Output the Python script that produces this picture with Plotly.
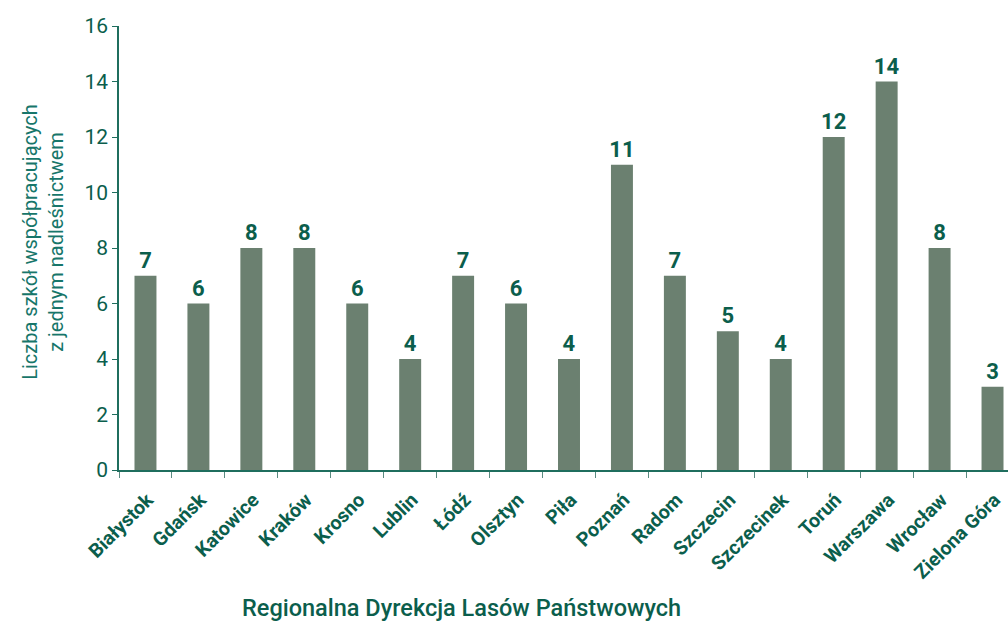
import plotly.graph_objects as go

categories = ["Białystok", "Gdańsk", "Katowice", "Kraków", "Krosno", "Lublin", "Łódź",
              "Olsztyn", "Piła", "Poznań", "Radom", "Szczecin", "Szczecinek", "Toruń",
              "Warszawa", "Wrocław", "Zielona Góra"]
values = [7, 6, 8, 8, 6, 4, 7, 6, 4, 11, 7, 5, 4, 12, 14, 8, 3]

y_title = "Liczba szkół współpracujących<br>z jednym nadleśnictwem"
x_title = "Regionalna Dyrekcja Lasów Państwowych"

dark = "#0b5e4c"
bar_color = "#6b8070"
FONT = "Roboto"

fig = go.Figure(go.Bar(
    x=categories, y=values,
    marker=dict(color=bar_color, line=dict(width=0)),
    text=[str(v) for v in values], textposition="outside",
    textfont=dict(family=FONT, size=22, color=dark, weight="bold"),
    cliponaxis=False, constraintext="none",
))

fig.update_layout(
    width=1021, height=622,
    margin=dict(l=119, r=2, t=26, b=152),
    plot_bgcolor="white", paper_bgcolor="white",
    bargap=0.585,
    showlegend=False,
    font=dict(family=FONT, color=dark),
    annotations=[
        dict(text=x_title, xref="paper", yref="paper", x=0.38, y=-0.311,
             showarrow=False, xanchor="center", yanchor="middle",
             font=dict(family=FONT, size=23.5, color=dark, weight=500)),
        dict(text=y_title, xref="paper", yref="paper", x=-0.0856 * 888 / 900, y=0.514,
             showarrow=False, xanchor="center", yanchor="middle", textangle=-90,
             font=dict(family=FONT, size=20, color="#17766a")),
    ],
)
fig.update_xaxes(
    automargin=False,
    tickangle=-45, tickfont=dict(family=FONT, size=19.5, color=dark, weight="bold"),
    ticklabelshift=2, ticklabelstandoff=9,
    showline=True, linecolor="#1f6e5e", linewidth=1.5,
    ticks="outside", tickson="boundaries", ticklen=6, tickcolor="#5a8a80",
    showgrid=False,
)
fig.update_yaxes(
    automargin=False,
    range=[0, 16], dtick=2,
    tickfont=dict(family=FONT, size=21, color=dark),
    showline=True, linecolor="#1f6e5e", linewidth=1.5,
    ticks="outside", ticklen=5, tickcolor="#1f6e5e",
    showgrid=False, zeroline=False,
)

fig.write_html("out.html", config={"displayModeBar": False},
               post_script="document.body.style.margin='0';document.body.style.overflow='hidden';")
